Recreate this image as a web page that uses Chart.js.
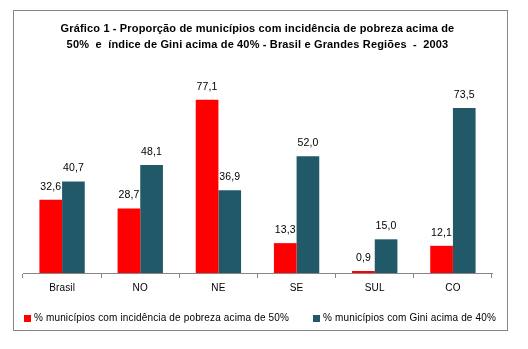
<!DOCTYPE html>
<html>
<head>
<meta charset="utf-8">
<script src="https://cdn.jsdelivr.net/npm/chart.js@4"></script>
<style>
  html, body { margin: 0; padding: 0; background: #fff; }
  #wrap { width: 528px; height: 349px; }
</style>
</head>
<body>
<div id="wrap"><canvas id="giniChart" width="528" height="349"></canvas></div>
<script>
const regioes = ['Brasil', 'NO', 'NE', 'SE', 'SUL', 'CO'];
const pobreza = [32.6, 28.7, 77.1, 13.3, 0.9, 12.1];
const gini = [40.7, 48.1, 36.9, 52.0, 15.0, 73.5];
const serieNomes = [
    '% municípios com incidência de pobreza acima de 50%',
    '% municípios com Gini acima de 40%'
];
const serieCores = ['#FF0000', '#215968'];
const titulo = [
    'Gráfico 1 - Proporção de municípios com incidência de pobreza acima de',
    '50%  e  índice de Gini acima de 40% - Brasil e Grandes Regiões  -  2003'
];

const FONTE = "'Liberation Sans', Arial, sans-serif";

// moldura cinza + espaçamento de letras um pouco mais largo
const moldura = {
    id: 'moldura',
    beforeLayout(chart) {
        chart.ctx.letterSpacing = '0.15px';
    },
    beforeDraw(chart) {
        const c = chart.ctx;
        c.letterSpacing = '0.15px';
        c.save();
        c.fillStyle = '#fff';
        c.fillRect(0, 0, chart.width, chart.height);
        c.strokeStyle = '#868686';
        c.lineWidth = 1;
        c.strokeRect(13.5, 10.5, 494, 320);
        c.restore();
    }
};

// valores em cima de cada barra, com vírgula decimal
const rotulos = {
    id: 'rotulos',
    afterDatasetsDraw(chart) {
        const c = chart.ctx;
        c.save();
        c.font = '10.5px ' + FONTE;
        c.fillStyle = '#000';
        c.textAlign = 'center';
        c.textBaseline = 'middle';
        chart.data.datasets.forEach((ds, i) => {
            chart.getDatasetMeta(i).data.forEach((bar, j) => {
                const txt = ds.data[j].toFixed(1).replace('.', ',');
                c.fillText(txt, bar.x, bar.y - 13);
            });
        });
        c.restore();
    }
};

// legenda embaixo, itens bem separados
const legenda = {
    id: 'legenda',
    afterDraw(chart) {
        const c = chart.ctx;
        const y = 318;
        let x = chart.chartArea.left + 1;
        c.save();
        c.font = '10px ' + FONTE;
        c.letterSpacing = '0.15px';
        c.textBaseline = 'middle';
        c.textAlign = 'left';
        chart.data.datasets.forEach((ds, i) => {
            c.fillStyle = ds.backgroundColor;
            c.fillRect(x, y - 3, 7, 7);
            c.fillStyle = '#000';
            c.fillText(ds.label, x + 10, y);
            x += 10 + c.measureText(ds.label).width + 24;
        });
        c.restore();
    }
};

const ctx = document.getElementById('giniChart');

new Chart(ctx, {
    type: 'bar',
    data: {
        labels: regioes,
        datasets: [
            { label: serieNomes[0], data: pobreza, backgroundColor: serieCores[0] },
            { label: serieNomes[1], data: gini, backgroundColor: serieCores[1] }
        ]
    },
    options: {
        responsive: false,
        animation: false,
        datasets: { bar: { categoryPercentage: 0.58, barPercentage: 1.0 } },
        layout: { padding: { left: 23, right: 36, top: 21, bottom: 44 } },
        plugins: {
            title: {
                display: true,
                text: titulo,
                color: '#000',
                font: { family: FONTE, size: 11, weight: 'bold', lineHeight: 1.45 },
                padding: { top: 0, bottom: 18 }
            },
            legend: { display: false },
            tooltip: { enabled: false }
        },
        scales: {
            x: {
                grid: {
                    offset: true,
                    drawOnChartArea: false,
                    drawTicks: true,
                    tickLength: 5,
                    color: '#868686'
                },
                border: { display: true, color: '#868686' },
                ticks: { color: '#000', font: { family: FONTE, size: 10 }, padding: 4 },
                afterFit(scale) { scale.height = 32; }
            },
            y: {
                display: false,
                min: 0,
                max: 90
            }
        }
    },
    plugins: [moldura, rotulos, legenda]
});
</script>
</body>
</html>
